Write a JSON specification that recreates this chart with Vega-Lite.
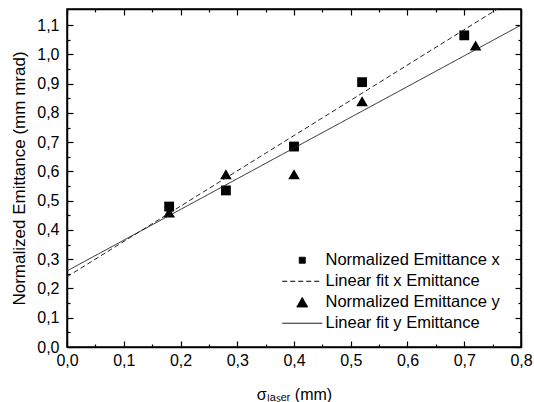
{
  "$schema": "https://vega.github.io/schema/vega-lite/v6.json",
  "width": 454,
  "height": 338,
  "autosize": "none",
  "padding": {"left": 67, "top": 9, "right": 13, "bottom": 55},
  "background": "white",
  "config": {
    "view": {"stroke": "black", "strokeWidth": 1.5},
    "font": "Liberation Sans",
    "axis": {
      "grid": false,
      "domainColor": "black",
      "domainWidth": 1.5,
      "tickColor": "black",
      "tickWidth": 1.2,
      "labelFont": "Liberation Sans",
      "labelFontSize": 16,
      "labelColor": "black",
      "titleFont": "Liberation Sans",
      "titleFontWeight": "normal",
      "titleColor": "black"
    },
    "legend": {
      "orient": "none",
      "legendX": 227,
      "legendY": 243,
      "title": null,
      "labelFont": "Liberation Sans",
      "labelFontSize": 16.5,
      "labelColor": "black",
      "labelOffset": 15,
      "labelLimit": 400,
      "rowPadding": 4,
      "symbolSize": 120,
      "symbolStrokeWidth": 1,
      "symbolStrokeColor": "black",
      "symbolFillColor": "black",
      "padding": 0
    }
  },
  "layer": [
    {
      "data": {
        "values": [
          {"x": 0.18, "y": 0.48, "series": "Normalized Emittance x"},
          {"x": 0.28, "y": 0.535, "series": "Normalized Emittance x"},
          {"x": 0.40, "y": 0.685, "series": "Normalized Emittance x"},
          {"x": 0.52, "y": 0.905, "series": "Normalized Emittance x"},
          {"x": 0.70, "y": 1.065, "series": "Normalized Emittance x"},
          {"x": 0.18, "y": 0.46, "series": "Normalized Emittance y"},
          {"x": 0.28, "y": 0.59, "series": "Normalized Emittance y"},
          {"x": 0.40, "y": 0.59, "series": "Normalized Emittance y"},
          {"x": 0.52, "y": 0.84, "series": "Normalized Emittance y"},
          {"x": 0.72, "y": 1.03, "series": "Normalized Emittance y"}
        ]
      },
      "mark": {"type": "point", "filled": true, "color": "black", "opacity": 1},
      "encoding": {
        "x": {
          "field": "x", "type": "quantitative",
          "scale": {"domain": [0, 0.8], "nice": false, "zero": false},
          "axis": {
            "orient": "bottom",
            "values": [0, 0.05, 0.1, 0.15, 0.2, 0.25, 0.3, 0.35, 0.4, 0.45, 0.5, 0.55, 0.6, 0.65, 0.7, 0.75, 0.8],
            "labelExpr": "abs(datum.value*10 - round(datum.value*10)) < 0.001 ? replace(format(datum.value, '.1f'), '.', ',') : ''",
            "tickSize": {"condition": {"test": "abs(datum.value*10 - round(datum.value*10)) < 0.001", "value": -6}, "value": -3},
            "labelPadding": 11,
            "labelFlush": false,
            "labelOverlap": false,
            "title": "σₗₐₛₑᵣ (mm)",
            "titleFontSize": 16,
            "titlePadding": 15
          }
        },
        "y": {
          "field": "y", "type": "quantitative",
          "scale": {"domain": [0, 1.155], "nice": false, "zero": false},
          "axis": {
            "orient": "left",
            "values": [0, 0.05, 0.1, 0.15, 0.2, 0.25, 0.3, 0.35, 0.4, 0.45, 0.5, 0.55, 0.6, 0.65, 0.7, 0.75, 0.8, 0.85, 0.9, 0.95, 1.0, 1.05, 1.1],
            "labelExpr": "abs(datum.value*10 - round(datum.value*10)) < 0.001 ? replace(format(datum.value, '.1f'), '.', ',') : ''",
            "tickSize": {"condition": {"test": "abs(datum.value*10 - round(datum.value*10)) < 0.001", "value": -6}, "value": -3},
            "labelPadding": 14,
            "labelFlush": false,
            "labelOverlap": false,
            "title": "Normalized Emittance (mm mrad)",
            "titleFontSize": 17,
            "titlePadding": 8
          }
        },
        "shape": {
          "field": "series", "type": "nominal",
          "scale": {
            "domain": ["Normalized Emittance x", "Linear fit x Emittance", "Normalized Emittance y", "Linear fit y Emittance"],
            "range": ["M-0.55,-0.55H0.55V0.55H-0.55Z", "M-3.65,0H3.65", "triangle-up", "M-3.65,0H3.65"]
          },
          "legend": {
            "title": null,
            "encode": {"symbols": {"update": {"stroke": {"value": "black"}, "strokeWidth": {"value": 1}, "fill": {"value": "black"}}}}
          }
        },
        "size": {"condition": {"test": "datum.series == 'Normalized Emittance x'", "value": 320}, "value": 135}
      }
    },
    {
      "data": {
        "values": [
          {"x": 0, "y": 0.24, "series": "Linear fit x Emittance"},
          {"x": 0.8, "y": 1.205, "series": "Linear fit x Emittance"},
          {"x": 0, "y": 0.26, "series": "Linear fit y Emittance"},
          {"x": 0.8, "y": 1.10, "series": "Linear fit y Emittance"}
        ]
      },
      "mark": {"type": "line", "color": "#222", "strokeWidth": 1, "clip": true},
      "encoding": {
        "x": {
          "field": "x", "type": "quantitative",
          "scale": {"domain": [0, 0.8], "nice": false, "zero": false},
          "axis": {
            "orient": "top",
            "values": [0, 0.05, 0.1, 0.15, 0.2, 0.25, 0.3, 0.35, 0.4, 0.45, 0.5, 0.55, 0.6, 0.65, 0.7, 0.75, 0.8],
            "labels": false,
            "tickSize": {"condition": {"test": "abs(datum.value*10 - round(datum.value*10)) < 0.001", "value": -6}, "value": -3},
            "title": null
          }
        },
        "y": {
          "field": "y", "type": "quantitative",
          "scale": {"domain": [0, 1.155], "nice": false, "zero": false},
          "axis": {
            "orient": "right",
            "values": [0, 0.05, 0.1, 0.15, 0.2, 0.25, 0.3, 0.35, 0.4, 0.45, 0.5, 0.55, 0.6, 0.65, 0.7, 0.75, 0.8, 0.85, 0.9, 0.95, 1.0, 1.05, 1.1],
            "labels": false,
            "tickSize": {"condition": {"test": "abs(datum.value*10 - round(datum.value*10)) < 0.001", "value": -6}, "value": -3},
            "title": null
          }
        },
        "strokeDash": {
          "field": "series", "type": "nominal",
          "scale": {
            "domain": ["Normalized Emittance x", "Linear fit x Emittance", "Normalized Emittance y", "Linear fit y Emittance"],
            "range": [[1, 0], [5, 3], [1, 0], [1, 0]]
          },
          "legend": {
            "title": null,
            "encode": {"symbols": {"update": {"stroke": {"value": "black"}, "strokeWidth": {"value": 1}, "fill": {"value": "black"}}}}
          }
        }
      }
    }
  ],
  "resolve": {"axis": {"x": "independent", "y": "independent"}}
}
